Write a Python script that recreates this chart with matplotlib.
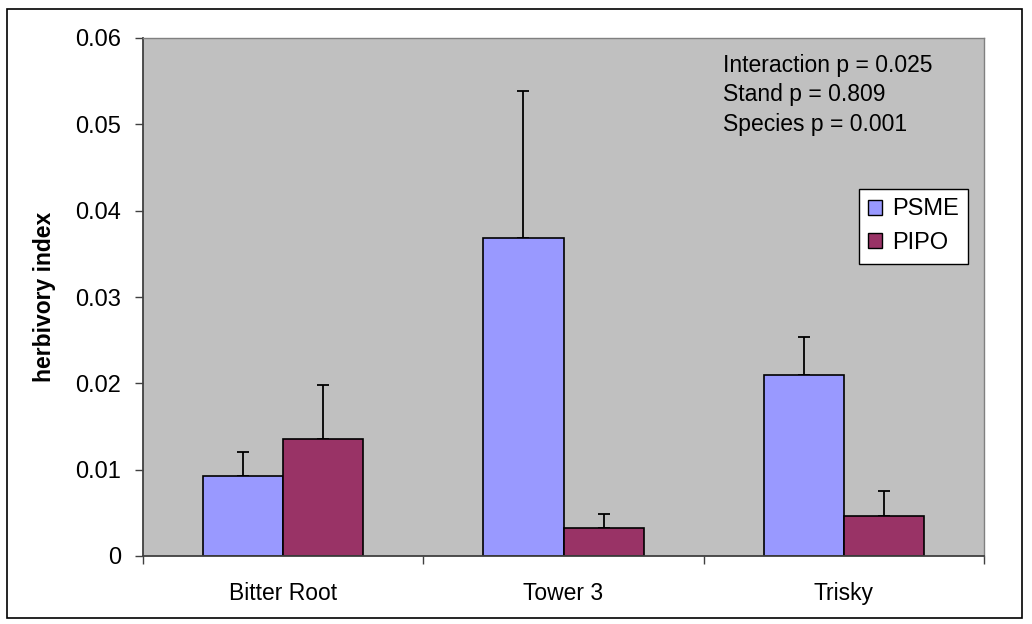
import numpy as np
import matplotlib.pyplot as plt
from matplotlib.patches import Rectangle

plt.rcParams["font.family"] = ["Liberation Sans", "DejaVu Sans"]

# data
stands = ["Bitter Root", "Tower 3", "Trisky"]
psme_mean = [0.0093, 0.0368, 0.0210]
psme_err = [0.0027, 0.0171, 0.0044]
pipo_mean = [0.0135, 0.0033, 0.0046]
pipo_err = [0.0063, 0.0016, 0.0029]
yticks = [0, 0.01, 0.02, 0.03, 0.04, 0.05, 0.06]
ytick_labels = ["0", "0.01", "0.02", "0.03", "0.04", "0.05", "0.06"]
stats_text = "Interaction p = 0.025\nStand p = 0.809\nSpecies p = 0.001"

PSME_COLOR = "#9999FF"
PIPO_COLOR = "#993366"


def main():
    fig = plt.figure(figsize=(10.32, 6.24), dpi=100)
    ax = fig.add_axes([143 / 1032, 1 - 556 / 624, 841 / 1032, 518 / 624])
    ax.set_facecolor("#C0C0C0")

    x = np.arange(len(stands))
    w = 1 / 3.5  # excel gap width 150%

    ekw = dict(ecolor="black", elinewidth=1.3, capthick=1.3, capsize=4.3)
    ax.bar(x - w / 2, psme_mean, w, color=PSME_COLOR, edgecolor="black",
           linewidth=1.2, label="PSME", zorder=2)
    ax.bar(x + w / 2, pipo_mean, w, color=PIPO_COLOR, edgecolor="black",
           linewidth=1.2, label="PIPO", zorder=2)
    ax.errorbar(x - w / 2, psme_mean, yerr=[np.zeros(3), psme_err], fmt="none",
                zorder=1, **ekw)
    ax.errorbar(x + w / 2, pipo_mean, yerr=[np.zeros(3), pipo_err], fmt="none",
                zorder=1, **ekw)

    ax.set_xlim(-0.5, len(stands) - 0.5)
    ax.set_ylim(0, 0.06)
    ax.set_yticks(yticks)
    ax.set_yticklabels(ytick_labels)

    # category boundary ticks, labels centred between them
    ax.set_xticks(np.arange(len(stands) + 1) - 0.5)
    ax.set_xticklabels([])
    ax.set_xticks(x, minor=True)
    ax.set_xticklabels(stands, minor=True)
    ax.tick_params(axis="x", which="minor", length=0, pad=19, labelsize=16.5)
    ax.tick_params(axis="x", which="major", direction="out", length=6,
                   width=1, color="#404040")
    ax.tick_params(axis="y", direction="out", length=6, width=1,
                   color="#404040", pad=10, labelsize=17)

    for s in ("left", "bottom"):
        ax.spines[s].set_color("#404040")
        ax.spines[s].set_linewidth(1.3)
    for s in ("top", "right"):
        ax.spines[s].set_color("#808080")
        ax.spines[s].set_linewidth(1)

    ax.set_ylabel("herbivory index", fontsize=16.5, fontweight="bold")
    ax.yaxis.set_label_coords(-0.104, 0.5)

    ax.text(0.6897, 0.97, stats_text, transform=ax.transAxes, va="top",
            ha="left", fontsize=16.5, linespacing=1.38)

    leg = ax.legend(loc="upper right", bbox_to_anchor=(0.981, 0.7085),
                    borderaxespad=0, fancybox=False, fontsize=17,
                    handlelength=0.6, handleheight=0.6, handletextpad=0.4,
                    labelspacing=0.5, borderpad=0.4, framealpha=1)
    leg.get_frame().set_edgecolor("black")
    leg.get_frame().set_linewidth(1)
    for h in leg.legend_handles:
        h.set_edgecolor("black")
        h.set_linewidth(1)

    # outer chart border
    fig.patches.append(Rectangle((7 / 1032, 6 / 624), 1015 / 1032, 609 / 624,
                                 transform=fig.transFigure, fill=False,
                                 edgecolor="black", linewidth=1.2))

    fig.savefig("out.png", dpi=100)
    plt.close(fig)


if __name__ == "__main__":
    main()
